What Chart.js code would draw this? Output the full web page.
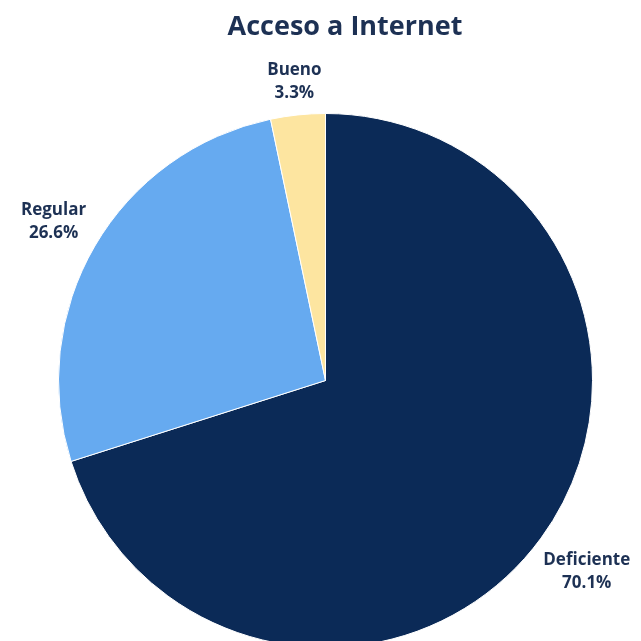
<!DOCTYPE html>
<html>
<head>
<meta charset="utf-8">
<script src="https://cdn.jsdelivr.net/npm/chart.js@4"></script>
<style>
  html, body { margin: 0; padding: 0; background: #fff; overflow: hidden; }
  #wrap { position: relative; width: 641px; height: 700px; }
</style>
</head>
<body>
<div id="wrap"><canvas id="chart"></canvas></div>
<script>
const TITLE = 'Acceso a Internet';
const categories = ['Deficiente', 'Regular', 'Bueno'];
const shares = [70.1, 26.6, 3.3];
const colors = ['#0b2a57', '#66aaf0', '#fde5a0'];

const TEXT_COLOR = '#1d3154';
const FONT = '"Open Sans", Lato, sans-serif';

// title plus outside "name / value%" labels placed along each slice's mid-angle
const outerLabels = {
    id: 'outerLabels',
    afterDraw(chart) {
        const ctx = chart.ctx;
        ctx.save();
        ctx.fillStyle = TEXT_COLOR;
        ctx.textAlign = 'center';
        ctx.textBaseline = 'middle';
        ctx.font = 'bold 27px ' + FONT;
        ctx.fillText(TITLE, 345, 27);

        ctx.font = 'bold 17px ' + FONT;
        const lineH = 23;
        const gap = 8;
        chart.getDatasetMeta(0).data.forEach((arc, i) => {
            const { x, y, startAngle, endAngle, outerRadius } = arc.getProps(['x', 'y', 'startAngle', 'endAngle', 'outerRadius'], true);
            const mid = (startAngle + endAngle) / 2;
            const dx = Math.cos(mid), dy = Math.sin(mid);
            const lines = [categories[i], shares[i].toFixed(1) + '%'];
            const w = Math.max(...lines.map(t => ctx.measureText(t).width));
            const h = lineH * 2;
            const ext = Math.abs(dx) * w / 2 + Math.abs(dy) * h / 2;
            const cx = x + dx * (outerRadius + gap + ext);
            const cy = y + dy * (outerRadius + gap + ext);
            ctx.fillText(lines[0], cx, cy - lineH / 2);
            ctx.fillText(lines[1], cx, cy + lineH / 2);
        });
        ctx.restore();
    }
};

new Chart(document.getElementById('chart'), {
    type: 'pie',
    data: {
        labels: categories,
        datasets: [{
            data: shares,
            backgroundColor: colors,
            borderColor: '#ffffff',
            borderWidth: 1,
        }],
    },
    options: {
        responsive: true,
        maintainAspectRatio: false,
        animation: false,
        layout: { padding: { left: 58, right: 48, top: 113, bottom: 52 } },
        plugins: {
            legend: { display: false },
            tooltip: { enabled: false },
            title: { display: false },
        },
    },
    plugins: [outerLabels],
});
</script>
</body>
</html>
